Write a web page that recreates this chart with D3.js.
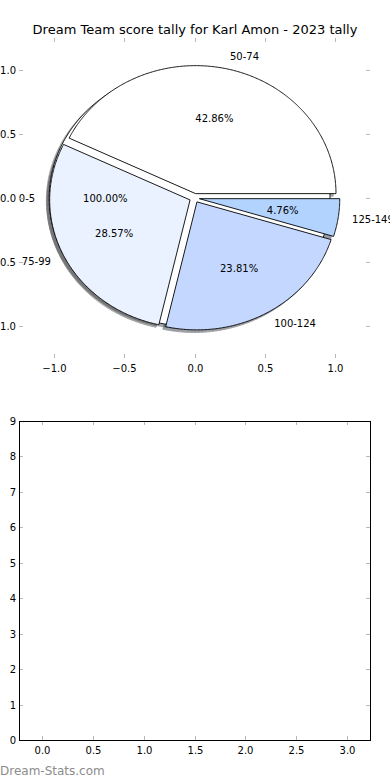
<!DOCTYPE html>
<html>
<head>
<meta charset="utf-8">
<title>Dream Team score tally</title>
<style>
  body { margin: 0; background: #fff; }
  svg { display: block; font-family: 'DejaVu Sans', sans-serif; }
  .tick-mark { stroke: #b8b8b8; stroke-width: 1; shape-rendering: crispEdges; }
</style>
</head>
<body>
<div id="chart"></div>
<script src="https://d3js.org/d3.v7.min.js"></script>
<script>
// background pie (a single full slice) and the real tally
var bgLabels = ["0-5"],
    bgValues = [1],
    bgColors = ["#ffffff"];

var labels = ["50-74", "75-99", "100-124", "125-149"],
    values = [9, 6, 5, 1],
    colors = ["#ffffff", "#ebf2ff", "#c4d8ff", "#b3d3ff"];

var pieTicks = [-1.0, -0.5, 0.0, 0.5, 1.0],
    barXTicks = [0.0, 0.5, 1.0, 1.5, 2.0, 2.5, 3.0],
    barYTicks = [0, 1, 2, 3, 4, 5, 6, 7, 8, 9];

var titleText = "Dream Team score tally for Karl Amon - 2023 tally",
    explode = 0.035,
    W = 390, H = 780;

var svg = d3.select("#chart").append("svg")
    .attr("width", W).attr("height", H);

// pie axes (limits -1.25..1.25, not equal aspect)
var px = d3.scaleLinear().domain([-1.25, 1.25]).range([19, 370]),
    py = d3.scaleLinear().domain([-1.25, 1.25]).range([358, 38]);

var fmt = function(v){ return d3.format(".1f")(v).replace("-", "\u2212"); };

svg.append("text")
    .attr("x", 195).attr("y", 34)
    .attr("text-anchor", "middle")
    .style("font-size", "13px")
    .text(titleText);

var line = d3.line().x(function(d){ return px(d[0]); }).y(function(d){ return py(d[1]); });

// matplotlib-style wedge: angles counterclockwise from +x
function wedgePts(a0, a1, ox, oy) {
    var pts = [], full = Math.abs(a1 - a0 - 2 * Math.PI) < 1e-9, n = Math.max(8, Math.ceil((a1 - a0) / 0.01));
    if (!full) pts.push([ox, oy]);
    for (var i = 0; i <= n; i++) {
        var t = a0 + (a1 - a0) * i / n;
        pts.push([ox + Math.cos(t), oy + Math.sin(t)]);
    }
    return pts;
}

var pie = d3.pie().sort(null).value(function(d){ return d; });

function build(vals, labs, cols) {
    var total = d3.sum(vals);
    return pie(vals).map(function(a, i){
        var mid = (a.startAngle + a.endAngle) / 2;
        var ox = explode * Math.cos(mid), oy = explode * Math.sin(mid);
        return { a0: a.startAngle, a1: a.endAngle, mid: mid, ox: ox, oy: oy,
                 label: labs[i], color: cols[i], pct: vals[i] / total * 100 };
    });
}

var bg = build(bgValues, bgLabels, bgColors),
    main = build(values, labels, colors),
    all = bg.concat(main);

function shadowColor(c) {
    var r = d3.rgb(c);
    return d3.rgb(r.r * 0.3, r.g * 0.3, r.b * 0.3).toString();
}

var gPie = svg.append("g");

// shadows first (lower z-order)
gPie.selectAll(".shadow")
    .data(all)
    .enter().append("path")
    .attr("class", "shadow")
    .attr("d", function(d){
        return line(wedgePts(d.a0, d.a1, d.ox - 0.02, d.oy - 0.02)) + "Z";
    })
    .attr("fill", function(d){ return shadowColor(d.color); })
    .attr("stroke", function(d){ return shadowColor(d.color); })
    .attr("stroke-width", 1)
    .attr("opacity", 0.5);

gPie.selectAll(".wedge")
    .data(all)
    .enter().append("path")
    .attr("class", "wedge")
    .attr("d", function(d){ return line(wedgePts(d.a0, d.a1, d.ox, d.oy)) + "Z"; })
    .attr("fill", function(d){ return d.color; })
    .attr("stroke", "#000")
    .attr("stroke-width", 0.9)
    .attr("stroke-linejoin", "miter");

// labels and percentages
all.forEach(function(d){
    var lx = d.ox + 1.1 * Math.cos(d.mid), ly = d.oy + 1.1 * Math.sin(d.mid);
    gPie.append("text")
        .attr("x", px(lx)).attr("y", py(ly))
        .attr("dy", "0.35em")
        .attr("text-anchor", lx > 0 ? "start" : "end")
        .style("font-size", "10px")
        .text(d.label);
    var tx = d.ox + 0.6 * Math.cos(d.mid), ty = d.oy + 0.6 * Math.sin(d.mid);
    gPie.append("text")
        .attr("x", px(tx)).attr("y", py(ty))
        .attr("dy", "0.35em")
        .attr("text-anchor", "middle")
        .style("font-size", "10px")
        .text(d3.format(".2f")(d.pct) + "%");
});

// ticks helper: inside ticks on all four sides
function ticks(g, xs, ys, xScale, yScale, x0, x1, y0, y1, xf, yf) {
    xs.forEach(function(v){
        var x = Math.round(xScale(v)) + 0.5;
        g.append("line").attr("class", "tick-mark").attr("x1", x).attr("x2", x).attr("y1", y1).attr("y2", y1 - 4);
        g.append("line").attr("class", "tick-mark").attr("x1", x).attr("x2", x).attr("y1", y0).attr("y2", y0 + 4);
        g.append("text").attr("x", x).attr("y", y1 + 14)
            .attr("text-anchor", "middle").style("font-size", "10px").text(xf(v));
    });
    ys.forEach(function(v){
        var y = Math.round(yScale(v)) + 0.5;
        g.append("line").attr("class", "tick-mark").attr("x1", x0).attr("x2", x0 + 4).attr("y1", y).attr("y2", y);
        g.append("line").attr("class", "tick-mark").attr("x1", x1).attr("x2", x1 - 4).attr("y1", y).attr("y2", y);
        g.append("text").attr("x", x0 - 3).attr("y", y).attr("dy", "0.35em")
            .attr("text-anchor", "end").style("font-size", "10px").text(yf(v));
    });
}

ticks(svg.append("g"), pieTicks, pieTicks, px, py, 19, 370, 38, 358, fmt, fmt);

// empty lower axes
var bx = d3.scaleLinear().domain([-0.225, 3.225]).range([19, 370]),
    by = d3.scaleLinear().domain([0, 9]).range([740, 421]);

var gBar = svg.append("g");
ticks(gBar, barXTicks, barYTicks, bx, by, 19, 370, 421, 740, d3.format(".1f"), d3.format("d"));

gBar.append("rect")
    .attr("x", 19.5).attr("y", 421.5)
    .attr("width", 351).attr("height", 319)
    .attr("fill", "none")
    .attr("stroke", "#000")
    .attr("stroke-width", 1);

svg.append("text")
    .attr("x", 0).attr("y", 775)
    .style("font-size", "12px")
    .attr("fill", "#8c8c8c")
    .text("Dream-Stats.com");
</script>
</body>
</html>
